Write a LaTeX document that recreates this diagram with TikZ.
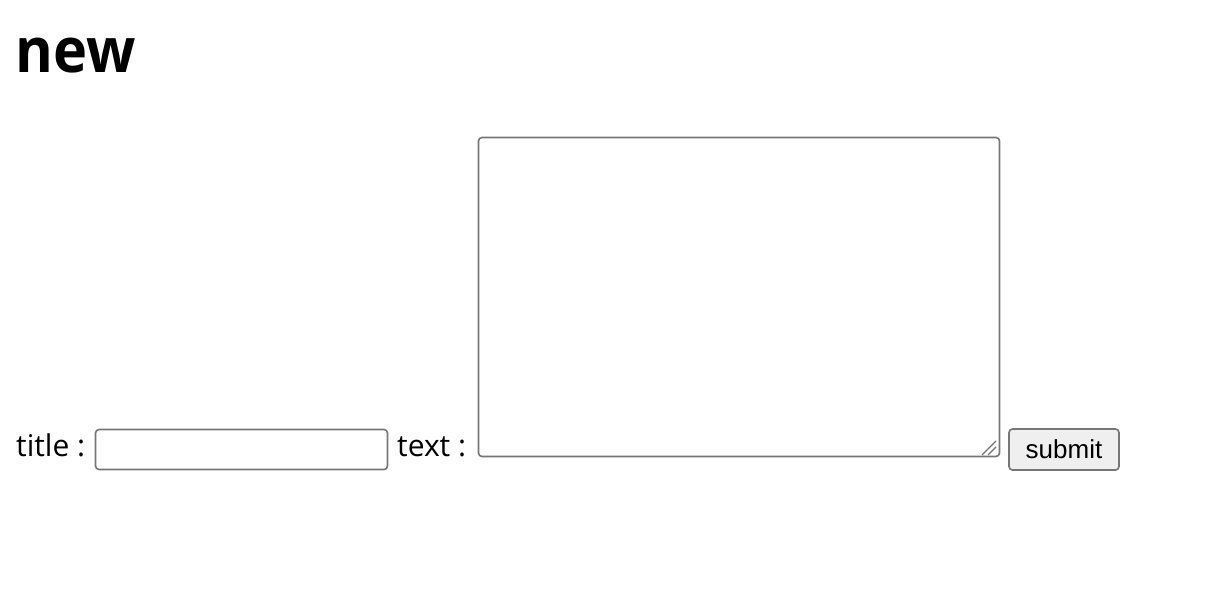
\documentclass[tikz,border=0pt]{standalone}
\usepackage{fontspec}
\setmainfont{Open Sans}
\newfontfamily\btnfont{Liberation Sans}
\newfontfamily\headfont[FakeStretch=0.93]{Open Sans}
\definecolor{boxline}{HTML}{767676}
\definecolor{btnfill}{HTML}{EFEFEF}
\begin{document}
\begin{tikzpicture}[x=1pt,y=-1pt,
				label/.style={inner sep=0pt,anchor=base west,font=\fontsize{30}{34}\selectfont},
				field/.style={draw=boxline,line width=1.6pt,rounded corners=3.5pt,fill=white},
				grip/.style={draw=boxline,line width=1.2pt}]
\useasboundingbox (0,0) rectangle (1216,606);
\node[inner sep=0pt,anchor=base west,font=\headfont\bfseries\fontsize{62}{66}\selectfont] (heading) at (15,72) {new};
\node[label] (titlelbl) at (16,456) {title :};
\draw[field] (95.5,429.5) rectangle (387.5,469.5);
\coordinate (titlebox) at (241,449);
\node[label] (textlbl) at (397,456) {text :};
\draw[field] (478.5,137.5) rectangle (999.5,456.5);
\coordinate (textbox) at (739,297);
\draw[grip] (982,455) -- (996,441);
\draw[grip] (988,455) -- (996,447);
\node[draw=boxline,fill=btnfill,line width=1.6pt,rounded corners=3.5pt,
	minimum width=110pt,minimum height=41pt,inner sep=0pt,
	font=\btnfont\fontsize{26}{30}\selectfont] (submit) at (1064,449.5) {submit};
\end{tikzpicture}
\end{document}
